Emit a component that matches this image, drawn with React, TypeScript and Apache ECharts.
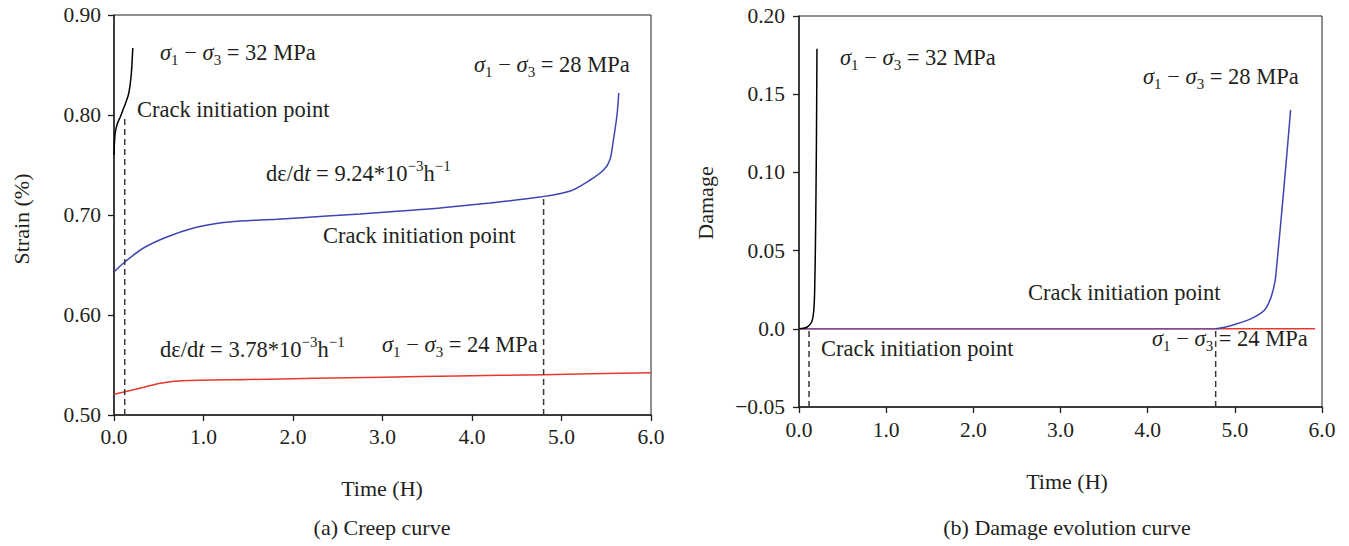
import React, { useEffect, useRef } from "react";
import * as echarts from "echarts";

const FONT = "'Liberation Serif', 'Times New Roman', serif";
const INK = "#231f20";
const BLUE = "#3d45b4";
const RED = "#e8382c";
const PURPLE = "#7a4d9c";
const DASH = "#3a3a3a";

// ---- axis ranges / ticks ----
const timeRange = [0, 6];
const timeStep = 1;
const strainRange = [0.5, 0.9];
const strainStep = 0.1;
const damageRange = [-0.05, 0.2];
const damageStep = 0.05;

// ---- (a) creep curves: time (h) and strain (%) ----
const strain32T = [0, 0.005, 0.015, 0.04, 0.07, 0.1, 0.13, 0.16, 0.18, 0.195, 0.203, 0.21];
const strain32V = [0.76, 0.772, 0.783, 0.792, 0.798, 0.805, 0.812, 0.82, 0.83, 0.843, 0.855, 0.867];

const strain28T = [0, 0.12, 0.33, 0.59, 0.89, 1.18, 1.41, 1.82, 2.38, 2.75, 3.2, 3.64, 4.2, 4.76, 5.1, 5.32, 5.47, 5.54, 5.58, 5.62, 5.64];
const strain28V = [0.643, 0.653, 0.667, 0.678, 0.687, 0.692, 0.694, 0.6957, 0.699, 0.701, 0.704, 0.707, 0.712, 0.718, 0.724, 0.735, 0.745, 0.755, 0.775, 0.8, 0.822];

const strain24T = [0, 0.24, 0.52, 0.76, 1.5, 2.24, 3.0, 3.84, 4.8, 6.0];
const strain24V = [0.5207, 0.5257, 0.5317, 0.5343, 0.5355, 0.5367, 0.5378, 0.539, 0.5403, 0.5423];

// crack initiation points on the creep curves (time, strain)
const crackStrainT = [0.12, 4.8];
const crackStrainV = [0.797, 0.716];

// ---- (b) damage evolution curves ----
const damage32T = [0, 0.05, 0.09, 0.13, 0.155, 0.17, 0.18, 0.19, 0.2, 0.206];
const damage32V = [0, 0.0003, 0.001, 0.003, 0.006, 0.012, 0.025, 0.06, 0.12, 0.179];

const damage28T = [0, 1, 2, 3, 4, 4.78, 4.95, 5.17, 5.3, 5.36, 5.42, 5.46, 5.48, 5.56, 5.64];
const damage28V = [0, 0, 0, 0, 0, 0, 0.002, 0.006, 0.01, 0.0134, 0.021, 0.03, 0.04, 0.088, 0.14];

const damage24T = [0, 3, 5.92];
const damage24V = [0, 0, 0];

// crack initiation times on the damage curves
const crackDamageT = [0.115, 4.78];
const crackDamageV = [0, 0];

const zip = (a: number[], b: number[]) => a.map((x, i) => [x, b[i]]);

const curve = (xi: number, data: number[][], color: string, smooth = 0.3) => ({
  type: "line",
  xAxisIndex: xi,
  yAxisIndex: xi,
  data,
  showSymbol: false,
  smooth,
  silent: true,
  lineStyle: { color, width: 1.5 },
  itemStyle: { color },
});

const dashed = (xi: number, x: number, y0: number, y1: number) => ({
  type: "line",
  xAxisIndex: xi,
  yAxisIndex: xi,
  data: [
    [x, y0],
    [x, y1],
  ],
  showSymbol: false,
  silent: true,
  lineStyle: { color: DASH, width: 1.5, type: [6, 4] },
});

const NOTE_SIZE = 22.5;
const SUB_SIZE = 15;
const rich = {
  n: { fontFamily: FONT, fontSize: NOTE_SIZE, color: INK, lineHeight: 30 },
  i: { fontFamily: FONT, fontSize: NOTE_SIZE, color: INK, fontStyle: "italic", lineHeight: 30 },
  sb: { fontFamily: FONT, fontSize: SUB_SIZE, color: INK, lineHeight: 13, verticalAlign: "bottom" },
  sp: { fontFamily: FONT, fontSize: SUB_SIZE, color: INK, lineHeight: 15, verticalAlign: "top" },
};

const stressLabel = (mpa: number) => `{i|σ}{sb|1}{n| − }{i|σ}{sb|3}{n| = ${mpa} MPa}`;
const rateLabel = (r: string) => `{n|dε/d}{i|t}{n| = ${r}*10}{sp|−3}{n|h}{sp|−1}`;
const crackLabel = "{n|Crack initiation point}";

const note = (x: number, y: number, text: string) => ({
  type: "text",
  x,
  y,
  silent: true,
  style: { text, rich, align: "left", verticalAlign: "middle", fill: INK },
});

const plain = (x: number, y: number, text: string, size: number, rotation = 0) => ({
  type: "text",
  x,
  y,
  rotation,
  silent: true,
  style: {
    text,
    fill: INK,
    font: `${size}px ${FONT}`,
    align: "center",
    verticalAlign: "middle",
  },
});

const fmtDamage = (v: number) => {
  if (Math.abs(v) < 1e-9) return "0.0";
  return v < 0 ? "\u2212" + Math.abs(v).toFixed(2) : v.toFixed(2);
};

const axisCommon = {
  axisLine: { show: true, onZero: false, lineStyle: { color: INK, width: 1.5 } },
  axisTick: { show: true, length: 6, lineStyle: { color: INK, width: 1.3 } },
  splitLine: { show: false },
};

const TICK_SIZE = 21.5;
const TITLE_SIZE = 22;

export default function App() {
  const ref = useRef<HTMLDivElement>(null);

  useEffect(() => {
    if (!ref.current) return;
    const chart = echarts.init(ref.current, undefined, { renderer: "svg" });

    const xAxis = (gi: number, margin: number) => ({
      type: "value",
      gridIndex: gi,
      min: timeRange[0],
      max: timeRange[1],
      interval: timeStep,
      ...axisCommon,
      axisLabel: {
        fontFamily: FONT,
        fontSize: TICK_SIZE,
        color: INK,
        margin,
        formatter: (v: number) => v.toFixed(1),
      },
    });

    const blueDamage = zip(damage28T, damage28V);
    const blueFlat = blueDamage.filter((p) => p[0] <= crackDamageT[1]);
    const blueRise = blueDamage.filter((p) => p[0] >= crackDamageT[1]);

    const option: any = {
      animation: false,
      backgroundColor: "#ffffff",
      grid: [
        { left: 114, top: 15, width: 537, height: 400, show: true, borderColor: INK, borderWidth: 1 },
        { left: 799, top: 16, width: 523, height: 391, show: true, borderColor: INK, borderWidth: 1 },
      ],
      xAxis: [xAxis(0, 11), xAxis(1, 12)],
      yAxis: [
        {
          type: "value",
          gridIndex: 0,
          min: strainRange[0],
          max: strainRange[1],
          interval: strainStep,
          ...axisCommon,
          axisLabel: {
            fontFamily: FONT,
            fontSize: TICK_SIZE,
            color: INK,
            margin: 13,
            formatter: (v: number) => v.toFixed(2),
          },
        },
        {
          type: "value",
          gridIndex: 1,
          min: damageRange[0],
          max: damageRange[1],
          interval: damageStep,
          ...axisCommon,
          axisLabel: {
            fontFamily: FONT,
            fontSize: TICK_SIZE,
            color: INK,
            margin: 14,
            formatter: fmtDamage,
          },
        },
      ],
      series: [
        curve(0, zip(strain24T, strain24V), RED),
        curve(0, zip(strain28T, strain28V), BLUE),
        curve(0, zip(strain32T, strain32V), "#000000"),
        dashed(0, crackStrainT[0], strainRange[0], crackStrainV[0]),
        dashed(0, crackStrainT[1], strainRange[0], crackStrainV[1]),
        curve(1, zip(damage24T, damage24V), RED, 0),
        curve(1, blueFlat, PURPLE, 0),
        curve(1, blueRise, BLUE),
        curve(1, zip(damage32T, damage32V), "#000000"),
        dashed(1, crackDamageT[0], damageRange[0], crackDamageV[0]),
        dashed(1, crackDamageT[1], damageRange[0], crackDamageV[1]),
      ],
      graphic: [
        // (a) annotations
        note(160, 52, stressLabel(32)),
        note(137, 109, crackLabel),
        note(474, 64, stressLabel(28)),
        note(266, 173, rateLabel("9.24")),
        note(323, 235, crackLabel),
        note(160, 349, rateLabel("3.78")),
        note(382, 344, stressLabel(24)),
        // (b) annotations
        note(840, 57, stressLabel(32)),
        note(1143, 76, stressLabel(28)),
        note(1028, 292, crackLabel),
        note(1152, 338, stressLabel(24)),
        note(821, 348, crackLabel),
        // axis titles & captions
        plain(21, 219, "Strain (%)", TITLE_SIZE, Math.PI / 2),
        plain(705, 203, "Damage", TITLE_SIZE, Math.PI / 2),
        plain(382, 488, "Time (H)", TITLE_SIZE),
        plain(1067, 481, "Time (H)", TITLE_SIZE),
        plain(382, 527, "(a) Creep curve", TITLE_SIZE),
        plain(1067, 527, "(b) Damage evolution curve", TITLE_SIZE),
      ],
    };

    chart.setOption(option);
    return () => chart.dispose();
  }, []);

  return (
    <div
      ref={ref}
      style={{ position: "absolute", left: 0, top: 0, width: 1349, height: 546, background: "#fff" }}
    />
  );
}
